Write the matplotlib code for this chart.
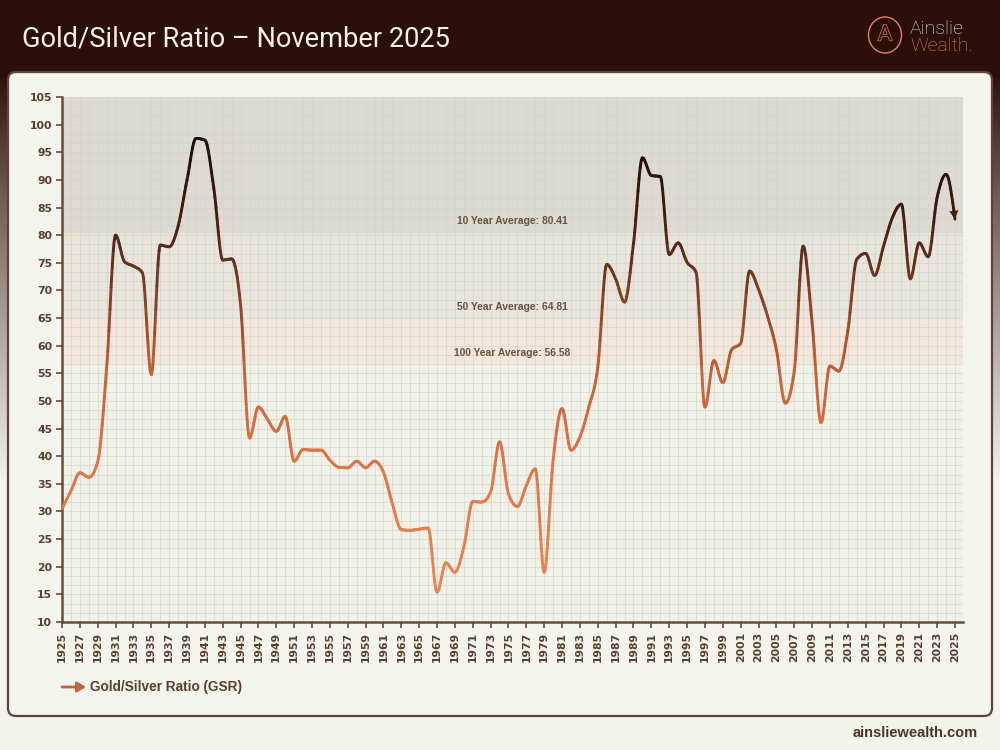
import numpy as np
import matplotlib
matplotlib.use("Agg")
import matplotlib.pyplot as plt
import matplotlib.patheffects as pe
from matplotlib.path import Path
from matplotlib.patches import PathPatch, FancyBboxPatch, Ellipse
from matplotlib.colors import LinearSegmentedColormap, Normalize
from matplotlib.ticker import FixedLocator

# ---------------- data ----------------
years = list(range(1925, 2026))
ratio = [
    30.5, 33.7, 37.0, 36.2, 39.0, 56.0, 80.0, 75.2, 74.4, 73.2,   # 1925-1934
    54.8, 78.2, 77.9, 81.6, 90.0, 97.5, 97.2, 88.5, 75.5, 75.7,   # 1935-1944
    67.3, 43.3, 48.9, 46.7, 44.5, 47.2, 39.1, 41.2, 41.1, 41.1,   # 1945-1954
    39.3, 38.0, 37.9, 39.1, 37.9, 39.1, 37.1, 31.4, 26.7, 26.6,   # 1955-1964
    26.8, 27.0, 15.4, 20.7, 19.0, 23.6, 31.8, 31.7, 33.5, 42.6,   # 1965-1974
    33.2, 30.9, 34.7, 37.7, 19.0, 39.3, 48.6, 41.1, 43.5, 48.9,   # 1975-1984
    56.1, 74.7, 72.1, 67.9, 78.5, 94.0, 90.8, 90.6, 76.5, 78.6,   # 1985-1994
    75.1, 73.3, 48.9, 57.3, 53.3, 59.3, 60.4, 73.5, 70.2, 65.4,   # 1995-2004
    59.3, 49.6, 55.4, 78.0, 64.2, 46.1, 56.3, 55.4, 62.7, 75.6,   # 2005-2014
    76.7, 72.7, 78.0, 83.2, 85.6, 72.1, 78.6, 76.1, 86.8, 91.0,   # 2015-2024
    82.9,                                                         # 2025
]
avg_labels = ["10 Year Average", "50 Year Average", "100 Year Average"]
avg_values = [80.41, 64.81, 56.58]
series_label = "Gold/Silver Ratio (GSR)"
title = "Gold/Silver Ratio \u2013 November 2025"
footer = "ainsliewealth.com"
x_tick_labels = [str(y) for y in range(1925, 2026, 2)]
y_tick_labels = [str(v) for v in range(10, 106, 5)]

# ---------------- style ----------------
DARK = "#2b0f08"
CREAM = "#f3f4eb"
TXT = "#5a3e30"
SPINE = "#6b4a3a"
SALMON = "#e0826a"

line_cmap = LinearSegmentedColormap.from_list(
    "gsr",
    [(0.00, "#ea8a5f"), (0.30, "#de784b"), (0.50, "#c4623b"),
     (0.61, "#964a2b"), (0.72, "#66321e"), (0.83, "#3e1b10"),
     (1.00, "#1a0905")])
norm = Normalize(10, 100)

fig = plt.figure(figsize=(10, 7.5), dpi=100)

# background gradient (dark header fading to cream)
bg = fig.add_axes([0, 0, 1, 1])
bg.set_xlim(0, 1); bg.set_ylim(0, 1); bg.axis("off")
H = 750
rows = np.arange(H)
t = np.clip((rows - 75) / (480 - 75), 0, 1) ** 0.9
c_dark = np.array([43, 15, 8]) / 255
c_cream = np.array([242, 243, 233]) / 255
grad = c_dark[None, :] * (1 - t[:, None]) + c_cream[None, :] * t[:, None]
bg.imshow(grad[:, None, :], aspect="auto", extent=[0, 1, 0, 1], origin="upper", zorder=0)

# card
card = FancyBboxPatch((8 / 1000, 1 - 716 / 750), 984 / 1000, 644 / 750,
                      boxstyle="round,pad=0,rounding_size=0.008",
                      mutation_aspect=1000 / 750,
                      facecolor=CREAM, edgecolor="#5e4336", lw=1.6,
                      transform=bg.transAxes, zorder=1)
bg.add_patch(card)

# header texts
fig.text(22 / 1000, 1 - 46 / 750, title, color="#f7f1e6", fontsize=19.6,
         family="Roboto", ha="left", va="baseline")
fig.text(910 / 1000, 1 - 34 / 750, "Ainslie", color="#f3ece2", fontsize=14,
         family="Roboto", weight="light", ha="left", va="baseline")
fig.text(910 / 1000, 1 - 51 / 750, "Wealth.", color=SALMON, fontsize=14,
         family="Roboto", weight="light", ha="left", va="baseline")
bg.add_patch(Ellipse((885 / 1000, 1 - 35 / 750), 33 / 1000, 36 / 750,
                     facecolor="none", edgecolor=SALMON, lw=1.0,
                     transform=bg.transAxes, zorder=2))
fig.text(885 / 1000, 1 - 35 / 750, "A", color=DARK, fontsize=16,
         family="Roboto", ha="center", va="center",
         path_effects=[pe.withStroke(linewidth=1.0, foreground=SALMON)])

# footer
fig.text(978 / 1000, 1 - 733 / 750, footer, color="#4a3428", fontsize=10.5,
         family="Liberation Sans", weight="bold", ha="right", va="center")

# ---------------- main axes ----------------
ax = fig.add_axes([62 / 1000, 1 - 622 / 750, 901 / 1000, 525 / 750])
ax.set_xlim(1925, 2025.9)
ax.set_ylim(10, 105)
ax.set_facecolor("#eff1e7")

ylo, yhi = ax.get_ylim()
bands = [(avg_values[0], yhi, "#dcdad2"),
         (avg_values[1], avg_values[0], "#e7e5dc"),
         (avg_values[2], avg_values[1], "#f3e7dc"),
         (ylo, avg_values[2], "#f0f1e8")]
for lo, hi, col in bands:
    ax.axhspan(lo, hi, color=col, lw=0, zorder=0)

ax.set_xticks(list(range(1925, 2026, 2)))
ax.set_xticklabels(x_tick_labels, rotation=90)
ax.set_yticks(list(range(10, 106, 5)))
ax.set_yticklabels(y_tick_labels)
ax.xaxis.set_minor_locator(FixedLocator(np.arange(1925, 2026, 1)))
ax.yaxis.set_minor_locator(FixedLocator(np.arange(10, 105.01, 5 / 3)))
ax.grid(which="both", color="#d6d3c7", lw=0.55, alpha=0.8, zorder=1)
ax.set_axisbelow(True)
ax.tick_params(which="minor", length=0)
ax.tick_params(which="major", length=4, width=1.2, color=SPINE, labelcolor=TXT,
               labelsize=7.8, pad=3)
for lab in ax.get_xticklabels() + ax.get_yticklabels():
    lab.set_fontweight("bold")
    lab.set_family("DejaVu Sans")
for side in ["top", "right"]:
    ax.spines[side].set_visible(False)
for side in ["left", "bottom"]:
    ax.spines[side].set_color(SPINE)
    ax.spines[side].set_linewidth(1.8)

# average labels
xmid = sum(ax.get_xlim()) / 2
for lab, val in zip(avg_labels, avg_values):
    ax.annotate(f"{lab}: {val:.2f}", xy=(xmid, val), xytext=(0, 5),
                textcoords="offset points", ha="center", va="bottom",
                fontsize=7.4, color="#6b5142", weight="bold",
                family="Liberation Sans", zorder=4)

# ---------------- smooth line (monotone cubic Bezier) ----------------
x = np.array(years, dtype=float)
y = np.array(ratio, dtype=float)
h = np.diff(x)
s = np.diff(y) / h
m = np.zeros_like(y)
for i in range(1, len(y) - 1):
    s0, s1 = s[i - 1], s[i]
    p = (s0 * h[i] + s1 * h[i - 1]) / (h[i - 1] + h[i])
    m[i] = (np.sign(s0) + np.sign(s1)) * min(abs(s0), abs(s1), 0.5 * abs(p))
m[0] = (3 * s[0] - m[1]) / 2
m[-1] = (3 * s[-1] - m[-2]) / 2

def bez(P, tt):
    P0, P1, P2, P3 = P
    u = 1 - tt
    pt = u**3 * P0 + 3 * u**2 * tt * P1 + 3 * u * tt**2 * P2 + tt**3 * P3
    d = 3 * u**2 * (P1 - P0) + 6 * u * tt * (P2 - P1) + 3 * tt**2 * (P3 - P2)
    return pt, d

K = 8
last_ctrl = None
for i in range(len(x) - 1):
    hh = h[i]
    P0 = np.array([x[i], y[i]])
    P3 = np.array([x[i + 1], y[i + 1]])
    P1 = P0 + np.array([hh / 3, m[i] * hh / 3])
    P2 = P3 - np.array([hh / 3, m[i + 1] * hh / 3])
    last_ctrl = P2
    for k in range(K):
        a, b = k / K, (k + 1) / K
        qa, da = bez((P0, P1, P2, P3), a)
        qb, db = bez((P0, P1, P2, P3), b)
        Q1 = qa + (b - a) / 3 * da
        Q2 = qb - (b - a) / 3 * db
        path = Path([qa, Q1, Q2, qb],
                    [Path.MOVETO, Path.CURVE4, Path.CURVE4, Path.CURVE4])
        col = line_cmap(norm((qa[1] + qb[1]) / 2))
        ax.add_patch(PathPatch(path, facecolor="none", edgecolor=col, lw=2.1,
                               capstyle="round", joinstyle="round", zorder=5))

ax.annotate("", xy=(x[-1], y[-1]), xytext=tuple(last_ctrl),
            arrowprops=dict(arrowstyle="-|>,head_length=0.55,head_width=0.3",
                            color=line_cmap(norm(y[-1])), lw=0.01,
                            shrinkA=0, shrinkB=0, mutation_scale=11),
            zorder=6)

# ---------------- legend ----------------
bg.annotate("", xy=(86 / 1000, 1 - 687 / 750), xytext=(62 / 1000, 1 - 687 / 750),
            xycoords=bg.transAxes, textcoords=bg.transAxes,
            arrowprops=dict(arrowstyle="-|>,head_length=0.5,head_width=0.3",
                            color="#c0643c", lw=2.0, shrinkA=0, shrinkB=0,
                            mutation_scale=10), zorder=3)
fig.text(90 / 1000, 1 - 687 / 750, series_label, color="#5a3e30", fontsize=9.8,
         family="Liberation Sans", weight="bold", ha="left", va="center")

fig.savefig("out.png", dpi=100, facecolor=DARK)
